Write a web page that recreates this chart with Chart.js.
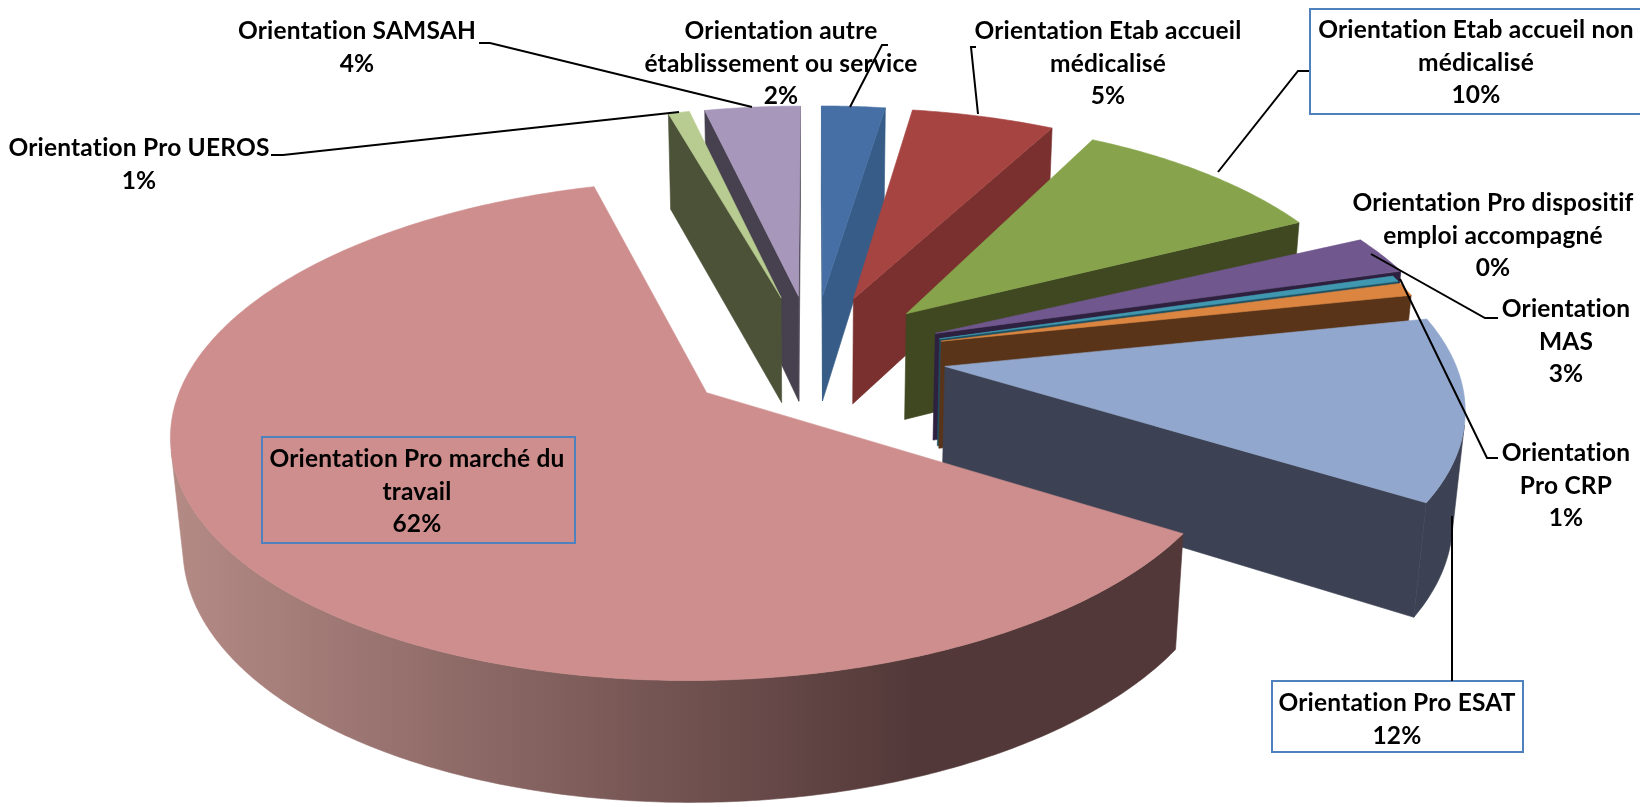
<!DOCTYPE html>
<html>
<head>
<meta charset="utf-8">
<title>Orientations</title>
<script src="https://cdn.jsdelivr.net/npm/chart.js@4"></script>
<style>
  html, body { margin: 0; padding: 0; background: #fff; }
  canvas { display: block; }
</style>
</head>
<body>
<canvas id="pieChart" width="1640" height="807"></canvas>
<script>
// Data, clockwise from the top.
const categories = [
  "Orientation autre établissement ou service",
  "Orientation Etab accueil médicalisé",
  "Orientation Etab accueil non médicalisé",
  "Orientation MAS",
  "Orientation Pro dispositif emploi accompagné",
  "Orientation Pro CRP",
  "Orientation Pro ESAT",
  "Orientation Pro marché du travail",
  "Orientation Pro UEROS",
  "Orientation SAMSAH"
];
const shares = [2.4, 5.4, 10.0, 2.6, 0.4, 0.9, 12.2, 61.7, 0.8, 3.6];

// Line breaks of each label, same order as categories.
const labelLines = [
  ["Orientation autre", "établissement ou service"],
  ["Orientation Etab accueil", "médicalisé"],
  ["Orientation Etab accueil non", "médicalisé"],
  ["Orientation", "MAS"],
  ["Orientation Pro dispositif", "emploi accompagné"],
  ["Orientation", "Pro CRP"],
  ["Orientation Pro ESAT"],
  ["Orientation Pro marché du", "travail"],
  ["Orientation Pro UEROS"],
  ["Orientation SAMSAH"]
];

// Styles
const topColors = ["#4670A5", "#A64442", "#87A44C", "#70578E", "#3F98B0", "#DB8540", "#92A7CD", "#CE8E8D", "#B8CC91", "#A797BB"];
const wallColors = ["#365C87", "#79302E", "#3F4820", "#2E2140", "#1E4F60", "#5A3418", "#3C4254", "#523838", "#4C5238", "#46404F"];
const mainWallLight = "#B48A85";
const explodeBy = [133, 133, 133, 133, 133, 133, 133, 130, 133, 133];
const stretchX = [1, 1, 0.96, 1.03, 1, 1, 1.01, 1.025, 1, 1];

// Label layout: centre x and first line y of each block.
const labelX = [781, 1108, 1476, 1566, 1493, 1566, 1397, 417, 139, 357];
const labelY = [31.5, 31.5, 30.5, 309.5, 203.5, 453.5, 703.5, 459.5, 148.5, 31.5];
const lineStep = 32.5;

// Leader lines and framed labels.
const leaders = [
  [[850, 107], [882, 45], [888, 45]],
  [[978, 114], [971, 47], [976, 47]],
  [[1218, 172], [1298, 71], [1309, 71]],
  [[1371, 254], [1485, 318], [1498, 318]],
  [[1400, 279], [1487, 458], [1498, 458]],
  [[1452, 516], [1452, 681]],
  [[271, 155], [283, 155], [679, 112]],
  [[479, 43], [490, 43], [752, 107]]
];
const frames = [
  { x: 1310, y: 9, w: 335, h: 105, fill: "#fff" },
  { x: 1272, y: 681, w: 251, h: 71, fill: "#fff" },
  { x: 262, y: 437, w: 313, h: 106, fill: null }
];

// Camera for the tilted pie.
const tiltK = 0.465;
const tiltC = Math.sqrt(1 - tiltK * tiltK);
const camDist = 3050;
const pieDepth = 124;
const pieRadius = 503;

function project(cx, cy, px, py, z) {
  const s = camDist / (camDist - py * tiltC + z * tiltK);
  return [cx + px * s, cy + (py * tiltK + z * tiltC) * s];
}

function polygonArea(pts) {
  let a = 0;
  for (let i = 0; i < pts.length; i++) {
    const p = pts[i];
    const q = pts[(i + 1) % pts.length];
    a += p[0] * q[1] - q[0] * p[1];
  }
  return a;
}

function fillPolygon(ctx, pts, color) {
  ctx.beginPath();
  pts.forEach((p, i) => (i ? ctx.lineTo(p[0], p[1]) : ctx.moveTo(p[0], p[1])));
  ctx.closePath();
  ctx.fillStyle = color;
  ctx.fill();
  // hides the antialiasing seam between neighbouring walls
  ctx.strokeStyle = color;
  ctx.lineWidth = 0.6;
  ctx.stroke();
}

// Draws the arcs Chart.js computed as exploded 3D wedges.
const pie3d = {
  id: "pie3d",
  beforeDatasetsDraw(chart) {
    const ctx = chart.ctx;
    const arcs = chart.getDatasetMeta(0).data;
    const order = arcs.map((arc, i) => i).sort((a, b) => {
      const ma = (arcs[a].startAngle + arcs[a].endAngle) / 2;
      const mb = (arcs[b].startAngle + arcs[b].endAngle) / 2;
      return Math.sin(ma) - Math.sin(mb);
    });

    const mainGradient = ctx.createLinearGradient(175, 0, 917, 0);
    mainGradient.addColorStop(0, mainWallLight);
    mainGradient.addColorStop(1, wallColors[7]);

    order.forEach((i) => {
      const arc = arcs[i];
      const a0 = arc.startAngle;
      const a1 = arc.endAngle;
      const mid = (a0 + a1) / 2;
      const off = arc.options.offset;
      const ox = Math.cos(mid) * off;
      const oy = Math.sin(mid) * off;
      const r = arc.outerRadius;
      const pt = (a, rad, z) => project(arc.x, arc.y, ox + Math.cos(a) * rad * stretchX[i], oy + Math.sin(a) * rad, z);
      const wall = i === 7 ? mainGradient : wallColors[i];

      const startWall = [pt(a0, 0, 0), pt(a0, r, 0), pt(a0, r, pieDepth), pt(a0, 0, pieDepth)];
      const endWall = [pt(a1, 0, 0), pt(a1, r, 0), pt(a1, r, pieDepth), pt(a1, 0, pieDepth)];
      if (polygonArea(startWall) < 0) fillPolygon(ctx, startWall, wall);
      if (polygonArea(endWall) > 0) fillPolygon(ctx, endWall, wall);

      // Outer wall, only the part that faces the camera.
      const steps = Math.max(2, Math.ceil((a1 - a0) / 0.01));
      let upper = [];
      let lower = [];
      const flush = () => {
        if (upper.length > 1) fillPolygon(ctx, upper.concat(lower.reverse()), wall);
        upper = [];
        lower = [];
      };
      for (let s = 0; s < steps; s++) {
        const b0 = a0 + (a1 - a0) * s / steps;
        const b1 = a0 + (a1 - a0) * (s + 1) / steps;
        const quad = [pt(b0, r, 0), pt(b1, r, 0), pt(b1, r, pieDepth), pt(b0, r, pieDepth)];
        if (polygonArea(quad) < 0) {
          if (!upper.length) {
            upper.push(quad[0]);
            lower.push(quad[3]);
          }
          upper.push(quad[1]);
          lower.push(quad[2]);
        } else {
          flush();
        }
      }
      flush();

      // Top face.
      const face = [pt(a0, 0, 0)];
      for (let s = 0; s <= steps; s++) face.push(pt(a0 + (a1 - a0) * s / steps, r, 0));
      fillPolygon(ctx, face, arc.options.backgroundColor);
    });
    return false;
  },
  // beforeDatasetsDraw cancels the dataset hooks, so labels go in afterDraw.
  afterDraw(chart) {
    const ctx = chart.ctx;
    const data = chart.data.datasets[0].data;
    const total = data.reduce((sum, v) => sum + v, 0);

    ctx.save();
    frames.forEach((f) => {
      if (f.fill) {
        ctx.fillStyle = f.fill;
        ctx.fillRect(f.x, f.y, f.w, f.h);
      }
      ctx.strokeStyle = "#4F81BD";
      ctx.lineWidth = 2;
      ctx.strokeRect(f.x, f.y, f.w, f.h);
    });

    ctx.strokeStyle = "#000";
    ctx.lineWidth = 2;
    leaders.forEach((line) => {
      ctx.beginPath();
      line.forEach((p, i) => (i ? ctx.lineTo(p[0], p[1]) : ctx.moveTo(p[0], p[1])));
      ctx.stroke();
    });

    ctx.fillStyle = "#000";
    ctx.font = "bold 24.5px Lato";
    ctx.letterSpacing = "0.2px"; // also turns off the Lato "ti" ligature
    ctx.textAlign = "center";
    ctx.textBaseline = "middle";
    labelLines.forEach((lines, i) => {
      const pct = Math.round(data[i] / total * 100) + "%";
      lines.concat(pct).forEach((text, n) => {
        ctx.fillText(text, labelX[i], labelY[i] + n * lineStep);
      });
    });
    ctx.restore();
  }
};

new Chart(document.getElementById("pieChart"), {
  type: "pie",
  data: {
    labels: categories,
    datasets: [{
      data: shares,
      backgroundColor: topColors,
      borderWidth: 0,
      offset: explodeBy
    }]
  },
  options: {
    responsive: false,
    animation: false,
    radius: pieRadius,
    layout: { padding: { right: 14, bottom: 96 } },
    plugins: { legend: { display: false }, tooltip: { enabled: false } }
  },
  plugins: [pie3d]
});
</script>
</body>
</html>
